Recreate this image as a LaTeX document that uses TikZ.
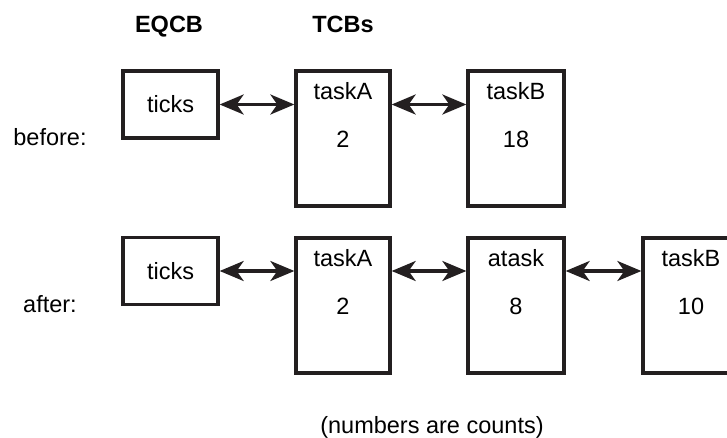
\documentclass[tikz,border=0pt]{standalone}
\usepackage{fontspec}
\setmainfont{Liberation Sans}
\usetikzlibrary{arrows.meta}
\definecolor{ink}{HTML}{231F20}
\begin{document}
\begin{tikzpicture}[x=1pt,y=-1pt,
  box/.style={draw=ink,line width=3.3pt,inner sep=0pt,rectangle},
  txt/.style={font=\fontsize{23.5}{28}\selectfont,text=black,inner sep=0pt,anchor=base},
  hdr/.style={txt,font=\fontsize{23.5}{28}\selectfont\bfseries},
  arr/.style={draw=ink,line width=3.3pt,{Stealth[length=24pt,width=20pt,inset=7pt]}-{Stealth[length=24pt,width=20pt,inset=7pt]}}]
\useasboundingbox (0,0) rectangle (727,438);
% headers
\node[hdr] (hEQ) at (169,33) {EQCB};
\node[hdr] (hTC) at (343,33) {TCBs};
% before row
\node[txt] (lb) at (50,146) {before:};
\node[box,minimum width=95pt,minimum height=67pt,font=\fontsize{23.5}{28}\selectfont] (t1) at (170.5,104.5) {ticks};
\node[box,minimum width=94pt,minimum height=135pt] (a1) at (343,138.5) {};
\node[box,minimum width=96pt,minimum height=135pt] (b1) at (516,138.5) {};
\node[txt] (a1n) at ([yshift=-30pt]a1.north) {taskA};
\node[txt] (a1c) at ([yshift=-78pt]a1.north) {2};
\node[txt] (b1n) at ([yshift=-30pt]b1.north) {taskB};
\node[txt] (b1c) at ([yshift=-78pt]b1.north) {18};
\draw[arr] (t1.east) -- (a1.west |- t1.east);
\draw[arr] (a1.east |- t1.east) -- (b1.west |- t1.east);
% after row
\node[txt] (la) at (50,312) {after:};
\node[box,minimum width=95pt,minimum height=67pt,font=\fontsize{23.5}{28}\selectfont] (t2) at (170.5,271) {ticks};
\node[box,minimum width=94pt,minimum height=135pt] (a2) at (343,305.5) {};
\node[box,minimum width=96pt,minimum height=135pt] (c2) at (516,305.5) {};
\node[box,minimum width=96pt,minimum height=135pt] (b2) at (691,305.5) {};
\node[txt] (a2n) at ([yshift=-30pt]a2.north) {taskA};
\node[txt] (a2c) at ([yshift=-78pt]a2.north) {2};
\node[txt] (c2n) at ([yshift=-30pt]c2.north) {atask};
\node[txt] (c2c) at ([yshift=-78pt]c2.north) {8};
\node[txt] (b2n) at ([yshift=-30pt]b2.north) {taskB};
\node[txt] (b2c) at ([yshift=-78pt]b2.north) {10};
\draw[arr] (t2.east) -- (a2.west |- t2.east);
\draw[arr] (a2.east |- t2.east) -- (c2.west |- t2.east);
\draw[arr] (c2.east |- t2.east) -- (b2.west |- t2.east);
% footer
\node[txt] (note) at (432,433) {(numbers are counts)};
\end{tikzpicture}
\end{document}
